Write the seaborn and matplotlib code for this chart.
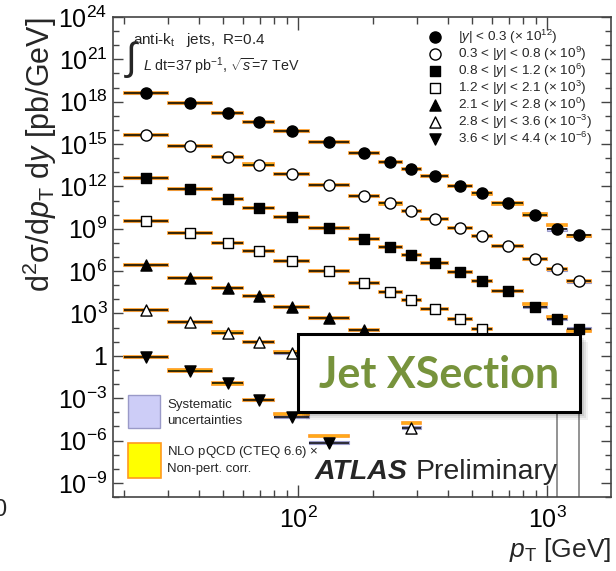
import numpy as np
import pandas as pd
import matplotlib
matplotlib.use("Agg")
import matplotlib.pyplot as plt
import matplotlib.ticker as mticker
from matplotlib.patches import Rectangle
import seaborn as sns

# ---------------- data ----------------
bin_edges = [20, 30, 45, 60, 80, 110, 160, 210, 260, 310, 400, 500, 600, 800, 1000, 1200, 1500]

series_labels = [
    r"$|y|$ < 0.3 ($\times$ 10$^{12}$)",
    r"0.3 < $|y|$ < 0.8 ($\times$ 10$^{9}$)",
    r"0.8 < $|y|$ < 1.2 ($\times$ 10$^{6}$)",
    r"1.2 < $|y|$ < 2.1 ($\times$ 10$^{3}$)",
    r"2.1 < $|y|$ < 2.8 ($\times$ 10$^{0}$)",
    r"2.8 < $|y|$ < 3.6 ($\times$ 10$^{-3}$)",
    r"3.6 < $|y|$ < 4.4 ($\times$ 10$^{-6}$)",
]

# log10 of the scaled cross section, one value per pT bin (starting at 20 GeV)
xs_y00_03 = [18.63, 17.88, 17.17, 16.55, 15.91, 15.16, 14.38, 13.74, 13.24, 12.72, 12.06, 11.50, 10.79, 9.96, 8.96, 8.54]
xs_y03_08 = [15.63, 14.85, 14.09, 13.55, 12.87, 12.09, 11.30, 10.79, 10.24, 9.72, 9.08, 8.47, 7.76, 6.86, 6.13, 5.28]
xs_y08_12 = [12.60, 11.80, 11.09, 10.50, 9.84, 9.06, 8.30, 7.71, 7.17, 6.57, 5.94, 5.28, 4.57, 3.45, 2.63, 1.92]
xs_y12_21 = [9.53, 8.73, 8.02, 7.43, 6.72, 5.99, 5.16, 4.52, 3.93, 3.34, 2.58, 1.92, 1.00, 0.00]
xs_y21_28 = [6.41, 5.54, 4.83, 4.21, 3.45, 2.65, 1.80, 1.10, 0.55, -0.20, -1.20]
xs_y28_36 = [3.22, 2.40, 1.65, 0.95, 0.17, -0.90, -2.30, -3.60, -5.08]
xs_y36_44 = [-0.11, -1.04, -1.96, -3.16, -4.30, -6.15]

# theory (NLO x non-pert.) offset w.r.t. data, in decades
th_y00_03 = [0, 0, 0, 0, 0, 0, 0, 0, 0, 0, 0, 0, 0, 0.05, 0.30, -0.05]
th_y03_08 = [0, 0, 0, 0, 0, 0, 0, 0, 0, 0, 0, 0, 0, 0, 0.05, 0.05]
th_y08_12 = [0, 0, 0, 0, 0, 0, 0, 0, 0, 0, 0, 0, 0, 0.20, 0.10, -0.15]
th_y12_21 = [0, 0, 0, 0, 0, 0, 0, 0, 0, 0, 0, 0, 0, 0]
th_y21_28 = [0, 0, 0, 0, 0, 0, 0, 0, 0, 0, 0]
th_y28_36 = [0, 0, 0, 0, 0.10, 0, 0, 0, 0.35]
th_y36_44 = [0, 0, 0, 0, 0.20, 0.45]

# systematic half-width, in decades
sy_y00_03 = [0.05] * 13 + [0.09, 0.12, 0.12]
sy_y03_08 = [0.05] * 13 + [0.09, 0.12, 0.12]
sy_y08_12 = [0.05] * 13 + [0.09, 0.12, 0.12]
sy_y12_21 = [0.05] * 12 + [0.09, 0.12]
sy_y21_28 = [0.05] * 9 + [0.09, 0.12]
sy_y28_36 = [0.05] * 7 + [0.09, 0.12]
sy_y36_44 = [0.05] * 4 + [0.09, 0.12]

# last two bins of 1.2<|y|<2.1: lower error bars running off the bottom
tail_err_bins = [14, 15]
tail_err_top = [-0.5, -1.5]

series_values = [xs_y00_03, xs_y03_08, xs_y08_12, xs_y12_21, xs_y21_28, xs_y28_36, xs_y36_44]
series_theory = [th_y00_03, th_y03_08, th_y08_12, th_y12_21, th_y21_28, th_y28_36, th_y36_44]
series_syst = [sy_y00_03, sy_y03_08, sy_y08_12, sy_y12_21, sy_y21_28, sy_y28_36, sy_y36_44]
series_markers = ["o", "o", "s", "s", "^", "^", "v"]
series_filled = [True, False, True, False, True, False, True]
y_tick_exps = [24, 21, 18, 15, 12, 9, 6, 3, 0, -3, -6, -9]

# ---------------- style ----------------
sns.set_theme(style="ticks")
plt.rcParams['font.family'] = ['Liberation Sans', 'DejaVu Sans']
plt.rcParams['mathtext.fontset'] = 'custom'
plt.rcParams['mathtext.rm'] = 'Liberation Sans'
plt.rcParams['mathtext.it'] = 'Liberation Sans:italic'
plt.rcParams['mathtext.bf'] = 'Liberation Sans:bold'
plt.rcParams['mathtext.sf'] = 'Liberation Sans'

LAV = '#cdcdf7'
LAV_E = '#9a9ac8'
YEL = '#ffff00'
ORA = '#ff9a1e'
AXC = '#444444'

W, H = 616, 571
fig = plt.figure(figsize=(W / 100, H / 100), dpi=100)
ax = fig.add_axes([113 / W, 1 - 497 / H, 498 / W, 480 / H])
ax.set_xscale('log')
ax.set_yscale('log')
ax.set_xlim(18, 1800)
ax.set_ylim(1e-10, 1e24)

edges = np.array(bin_edges, dtype=float)
lo_all = edges[:-1]
hi_all = edges[1:]
centers_all = np.sqrt(lo_all * hi_all)

MS = {'o': 64, 's': 54, '^': 64, 'v': 64}
TH_HW = 0.075
for vals, th, sy, mk, filled in zip(series_values, series_theory, series_syst,
                                     series_markers, series_filled):
    n = len(vals)
    lo, hi, cen = lo_all[:n], hi_all[:n], centers_all[:n]
    v = 10.0 ** np.array(vals)
    for i in range(n):
        s = sy[i]
        ax.add_patch(Rectangle((lo[i], v[i] * 10 ** -s), hi[i] - lo[i],
                               v[i] * (10 ** s - 10 ** -s), fc=LAV, ec=LAV_E,
                               lw=0.8, zorder=2))
        t = v[i] * 10 ** th[i]
        ax.add_patch(Rectangle((lo[i], t * 10 ** -TH_HW), hi[i] - lo[i],
                               t * (10 ** TH_HW - 10 ** -TH_HW), fc=YEL, ec=ORA,
                               lw=1.2, zorder=3))
    ax.hlines(v, lo, hi, color='black', lw=1.1, zorder=4)
    df = pd.DataFrame({'pt': cen, 'xs': v})
    sns.scatterplot(data=df, x='pt', y='xs', marker=mk, s=MS[mk],
                    color='black', facecolor='black' if filled else 'white',
                    edgecolor='black', linewidth=1.0, ax=ax, zorder=5, legend=False)

# long lower error bars of the last bins
ax.vlines(centers_all[tail_err_bins], 1e-10, 10.0 ** np.array(tail_err_top),
          color='#8a8a8a', lw=1.3, zorder=2)

# ---------------- axes ----------------
ax.set_xlabel(r"$p_{\rm T}$ [GeV]", fontsize=19, loc='right')
ax.xaxis.set_label_coords(1.0, -0.082)
ax.set_ylabel(r"d$^{2}$σ/d$p_{\rm T}$ d$y$ [pb/GeV]", fontsize=22, loc='top')
ax.yaxis.set_label_coords(-0.108, 0.998)

ax.yaxis.set_major_locator(mticker.FixedLocator([10.0 ** k for k in y_tick_exps]))
ax.yaxis.set_major_formatter(mticker.FixedFormatter(
    ["1" if k == 0 else r"10$^{%d}$" % k for k in y_tick_exps]))
ax.yaxis.set_minor_locator(mticker.FixedLocator([10.0 ** k for k in range(-10, 25)]))
ax.yaxis.set_minor_formatter(mticker.NullFormatter())
ax.xaxis.set_major_locator(mticker.FixedLocator([100, 1000]))
ax.xaxis.set_major_formatter(mticker.FixedFormatter([r"10$^{2}$", r"10$^{3}$"]))
ax.xaxis.set_minor_locator(mticker.LogLocator(base=10, subs=np.arange(2, 10), numticks=20))
ax.xaxis.set_minor_formatter(mticker.NullFormatter())

ax.tick_params(which='both', direction='in', top=True, right=True, colors=AXC,
               labelcolor='black', width=1.0)
ax.tick_params(axis='y', which='major', length=7, labelsize=18, pad=4)
ax.tick_params(axis='y', which='minor', length=4)
ax.tick_params(axis='x', which='major', length=9, labelsize=18, pad=7)
ax.tick_params(axis='x', which='minor', length=5)
for sp in ax.spines.values():
    sp.set_color(AXC)
    sp.set_linewidth(1.2)

T = ax.transAxes


def fx(px):
    return (px - 113) / 498


def fy(py):
    return (497 - py) / 480


# ---------------- legend (top right) ----------------
row_y = [37, 54, 71, 88, 105, 122, 139]
for lab, mk, filled, ry in zip(series_labels, series_markers, series_filled, row_y):
    ax.scatter([fx(435)], [fy(ry)], marker=mk, s=MS[mk], transform=T,
               facecolors='black' if filled else 'white', edgecolors='black',
               linewidths=1.0, clip_on=False, zorder=6)
    ax.text(fx(458), fy(ry + 4.3), lab, fontsize=9.7, ha='left', va='baseline',
            transform=T)

# ---------------- annotations ----------------
ax.text(fx(133), fy(40), r"anti-k$_{\rm t}$   jets,  R=0.4", fontsize=11,
        ha='left', va='center', transform=T)
ax.text(fx(124), fy(60), r"$\int$", fontsize=28, ha='left', va='center', transform=T)
ax.text(fx(143), fy(66), r"$L$ dt=37 pb$^{-1}$, $\sqrt{s}$=7 TeV", fontsize=10.3,
        ha='left', va='center', transform=T)

# lower-left legend for bands
ax.add_patch(Rectangle((fx(128), fy(428)), (160 - 128) / 498, (428 - 395) / 480,
                       transform=T, fc=LAV, ec=LAV_E, lw=1.0, zorder=6))
ax.text(fx(167), fy(405), "Systematic", fontsize=9.5, ha='left', va='center', transform=T)
ax.text(fx(167), fy(421), "uncertainties", fontsize=9.5, ha='left', va='center', transform=T)
ax.add_patch(Rectangle((fx(128), fy(478)), (161 - 128) / 498, (478 - 443) / 480,
                       transform=T, fc=YEL, ec=ORA, lw=1.2, zorder=6))
ax.text(fx(167), fy(452), r"NLO pQCD (CTEQ 6.6) $\times$", fontsize=9.5, ha='left',
        va='center', transform=T)
ax.text(fx(167), fy(469), "Non-pert. corr.", fontsize=9.5, ha='left', va='center',
        transform=T)

ax.text(fx(315), fy(479), "ATLAS", fontsize=20.5, fontweight='bold', fontstyle='italic',
        ha='left', va='baseline', transform=T)
ax.text(fx(416), fy(479), "Preliminary", fontsize=20.5, ha='left', va='baseline',
        transform=T)

# stray clipped label at the far left
fig.text(0.0, 1 - 510 / H, "0", fontsize=17, ha='center', va='center')

# ---------------- "Jet XSection" overlay box ----------------
bx0, bx1, by0, by1 = 298, 580, 334, 412
for k, a in zip([8, 6, 4, 2], [0.05, 0.07, 0.09, 0.11]):
    fig.add_artist(Rectangle(((bx0 + k) / W, 1 - (by1 + k) / H), (bx1 - bx0) / W,
                             (by1 - by0) / H, transform=fig.transFigure,
                             fc='black', ec='none', alpha=a, zorder=9))
fig.add_artist(Rectangle((bx0 / W, 1 - by1 / H), (bx1 - bx0) / W, (by1 - by0) / H,
                         transform=fig.transFigure, fc='white', ec='black', lw=2.2,
                         zorder=10))
fig.text((bx0 + bx1) / 2 / W, 1 - 375 / H, "Jet XSection", fontsize=31,
         fontweight='bold', color='#77933c', family=['Lato', 'DejaVu Sans'],
         ha='center', va='center', zorder=11)

fig.savefig("out.png", dpi=100)
